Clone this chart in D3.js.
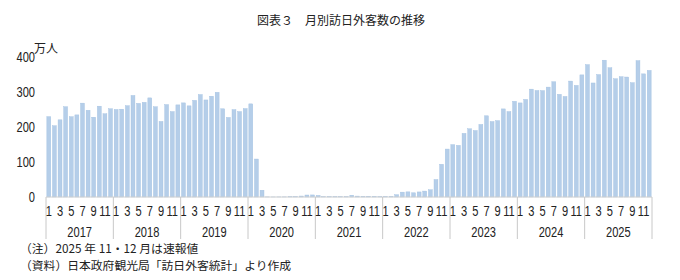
<!DOCTYPE html>
<html>
<head>
<meta charset="utf-8">
<script src="https://cdn.jsdelivr.net/npm/d3@7"></script>
<style>
  body { margin: 0; background: #fff; }
  svg text { fill: #222; }
  .jp { font-family: "Noto Sans CJK JP", sans-serif; }
</style>
</head>
<body>
<div id="chart"></div>
<script>
var width = 680;
var height = 280;
var margin = {top: 57, right: 28, bottom: 83, left: 46};
var numFont = "Liberation Sans, Arial, sans-serif";
var narrow = "scale(0.74,1)";

// Data (万人)
var years = ["2017", "2018", "2019", "2020", "2021", "2022", "2023", "2024", "2025"];
var months = [1, 2, 3, 4, 5, 6, 7, 8, 9, 10, 11, 12];
var monthTicks = [1, 3, 5, 7, 9, 11];
var yTicks = [0, 100, 200, 300, 400];
var v2017 = [229.6, 203.6, 220.5, 257.9, 229.4, 234.6, 268.2, 247.8, 228.0, 259.5, 237.8, 252.1];
var v2018 = [250.1, 250.9, 260.8, 290.1, 267.5, 270.5, 283.2, 257.8, 215.9, 264.1, 244.1, 263.2];
var v2019 = [268.9, 260.4, 276.1, 292.7, 277.3, 288.0, 299.1, 252.0, 227.3, 249.7, 244.1, 252.6];
var v2020 = [266.1, 108.5, 19.4, 0.3, 0.2, 0.3, 0.4, 0.9, 1.4, 2.8, 5.7, 5.9];
var v2021 = [4.6, 0.7, 1.2, 1.1, 1.0, 1.0, 5.1, 2.6, 1.8, 2.2, 2.1, 1.2];
var v2022 = [1.7, 1.7, 6.6, 13.9, 14.7, 12.0, 14.5, 16.9, 20.7, 49.9, 93.5, 137.0];
var v2023 = [149.7, 147.5, 181.8, 194.9, 189.9, 207.3, 232.0, 215.6, 218.2, 251.7, 244.1, 273.4];
var v2024 = [268.8, 278.8, 308.2, 304.3, 304.0, 314.0, 329.3, 293.3, 287.2, 331.2, 318.8, 348.9];
var v2025 = [378.2, 325.8, 349.8, 390.9, 369.3, 337.8, 343.7, 342.8, 326.6, 389.6, 351.8, 361.7];
var title = "図表３　月別訪日外客数の推移";
var unit = "万人";
var notes = ["（注）2025 年 11・12 月は速報値", "（資料）日本政府観光局「訪日外客統計」より作成"];

var yearValues = [v2017, v2018, v2019, v2020, v2021, v2022, v2023, v2024, v2025];
var data = [];
years.forEach(function (y, i) {
    months.forEach(function (m, j) {
        data.push({year: y, month: m, key: y + "-" + m, value: yearValues[i][j]});
    });
});

var svg = d3.select("#chart").append("svg")
    .attr("width", width)
    .attr("height", height);

var plotW = width - margin.left - margin.right;
var plotH = height - margin.top - margin.bottom;

// Scales
var xScale = d3.scaleBand()
    .domain(data.map(function (d) { return d.key; }))
    .range([0, plotW])
    .paddingInner(0.3)
    .paddingOuter(0.15);

var yearScale = d3.scaleBand()
    .domain(years)
    .range([0, plotW]);

var yScale = d3.scaleLinear()
    .domain([0, 400])
    .range([plotH, 0]);

var g = svg.append("g")
    .attr("transform", "translate(" + margin.left + "," + margin.top + ")");

// Bars
g.selectAll(".bar")
    .data(data)
    .enter().append("rect")
    .attr("class", "bar")
    .attr("x", function (d) { return xScale(d.key); })
    .attr("width", xScale.bandwidth())
    .attr("y", function (d) { return yScale(d.value); })
    .attr("height", function (d) { return plotH - yScale(d.value); })
    .attr("fill", "#b5cee9")
    .attr("stroke", "#a2c0e1")
    .attr("stroke-width", 0.4);

// baseline
g.append("line")
    .attr("x1", 0).attr("x2", plotW)
    .attr("y1", plotH).attr("y2", plotH)
    .attr("stroke", "#d0d0d0");

// y axis
var yAxis = g.append("g")
    .call(d3.axisLeft(yScale).tickValues(yTicks).tickSize(0));
yAxis.select(".domain").remove();
yAxis.selectAll("text")
    .attr("x", -11 / 0.74)
    .attr("font-size", 15)
    .attr("font-family", numFont)
    .attr("transform", narrow);

// year separators
g.selectAll(".sep")
    .data(years.concat(["end"]))
    .enter().append("line")
    .attr("x1", function (d, i) { return i * yearScale.bandwidth(); })
    .attr("x2", function (d, i) { return i * yearScale.bandwidth(); })
    .attr("y1", plotH)
    .attr("y2", plotH + 42)
    .attr("stroke", "#c8c8c8");

// month labels
var monthAxis = g.append("g")
    .attr("transform", "translate(0," + plotH + ")")
    .call(d3.axisBottom(xScale)
        .tickValues(data.filter(function (d) { return monthTicks.indexOf(d.month) >= 0; }).map(function (d) { return d.key; }))
        .tickFormat(function (k) { return k.split("-")[1]; })
        .tickSize(0).tickPadding(8));
monthAxis.select(".domain").remove();
monthAxis.selectAll("text")
    .attr("font-size", 15)
    .attr("font-family", numFont)
    .attr("transform", narrow);

// year labels
var yearAxis = g.append("g")
    .attr("transform", "translate(0," + (plotH + 25) + ")")
    .call(d3.axisBottom(yearScale).tickSize(0).tickPadding(4));
yearAxis.select(".domain").remove();
yearAxis.selectAll("text")
    .attr("font-size", 15)
    .attr("font-family", numFont)
    .attr("transform", narrow);

// unit
svg.append("text")
    .attr("class", "jp")
    .attr("x", 34).attr("y", 53)
    .attr("font-size", 12)
    .text(unit);

// title
svg.append("text")
    .attr("class", "jp")
    .attr("x", 341).attr("y", 25)
    .attr("text-anchor", "middle")
    .attr("font-size", 12)
    .text(title);

// notes
svg.selectAll(".note")
    .data(notes)
    .enter().append("text")
    .attr("class", "jp")
    .attr("x", 20)
    .attr("y", function (d, i) { return 253 + i * 17; })
    .attr("font-size", 11.8)
    .text(function (d) { return d; });
</script>
</body>
</html>
